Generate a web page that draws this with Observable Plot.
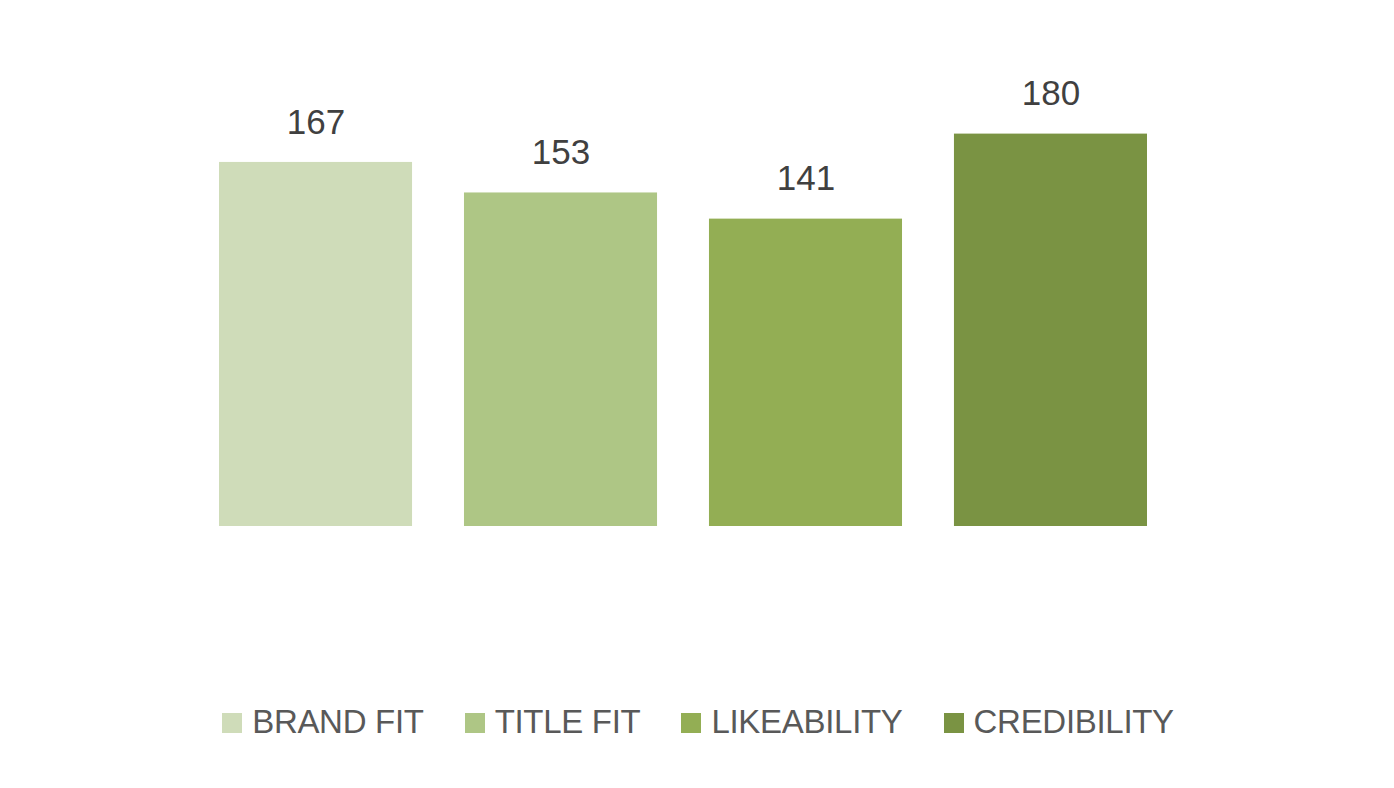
<!DOCTYPE html>
<html>
<head>
<meta charset="utf-8">
<script src="https://cdn.jsdelivr.net/npm/d3@7"></script>
<script src="https://cdn.jsdelivr.net/npm/@observablehq/plot@0.6"></script>
<style>
  html, body { margin: 0; padding: 0; background: #fff; }
  #chart { width: 1394px; height: 788px; position: relative; font-family: "Liberation Sans", Arial, sans-serif; }
  #legend { position: absolute; left: 0; top: 703px; width: 1394px; display: flex; justify-content: center; gap: 41px; padding-left: 2px; box-sizing: border-box; }
  .item { display: flex; align-items: center; font-size: 33px; color: #595959; letter-spacing: -0.3px; }
  .sw { width: 20px; height: 20px; margin-right: 10px; margin-top: 2px; }
</style>
</head>
<body>
<div id="chart"></div>
<script>
const categories = ["BRAND FIT", "TITLE FIT", "LIKEABILITY", "CREDIBILITY"];
const values = [167, 153, 141, 180];
const colors = ["#cfdcb9", "#aec685", "#93ae54", "#7a9343"];

const data = categories.map((c, i) => ({category: c, value: values[i]}));

const plot = Plot.plot({
  width: 1394,
  height: 640,
  marginLeft: 219,
  marginRight: 247,
  marginTop: 90,
  marginBottom: 114,
  x: {domain: categories, paddingInner: 0.212, paddingOuter: 0, round: false, axis: null},
  y: {domain: [0, 200], axis: null},
  color: {domain: categories, range: colors},
  style: {fontFamily: '"Liberation Sans", Arial, sans-serif', background: "#fff"},
  marks: [
    Plot.barY(data, {x: "category", y: "value", fill: "category"}),
    Plot.text(data, {x: "category", y: "value", text: d => String(d.value), dy: -40, fontSize: 35, fill: "#404040"})
  ]
});
document.getElementById("chart").appendChild(plot);

const legend = document.createElement("div");
legend.id = "legend";
categories.forEach((c, i) => {
  const item = document.createElement("div");
  item.className = "item";
  const sw = document.createElement("span");
  sw.className = "sw";
  sw.style.background = colors[i];
  item.appendChild(sw);
  item.appendChild(document.createTextNode(c));
  legend.appendChild(item);
});
document.getElementById("chart").appendChild(legend);
</script>
</body>
</html>
